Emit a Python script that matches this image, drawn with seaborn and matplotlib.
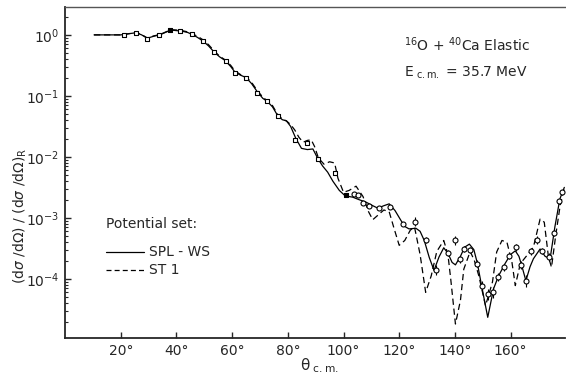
import matplotlib
matplotlib.use('Agg')
import matplotlib.pyplot as plt
import numpy as np
import pandas as pd
import seaborn as sns

# measured points, log10 of the ratio to Rutherford
sq_angle = [21.2, 25.3, 29.4, 33.6, 37.8, 41.4, 45.5, 49.5, 53.6, 57.7, 61.0, 65.0,
            69.1, 72.5, 76.4, 82.7, 86.9, 90.8, 97.1, 101.0]
sq_log = [0.0, 0.035, -0.06, 0.0, 0.08, 0.065, 0.01, -0.10, -0.28, -0.43, -0.62, -0.70,
          -0.96, -1.09, -1.33, -1.73, -1.77, -2.03, -2.27, -2.62]

ci_angle = [103.9, 105.1, 106.9, 109.0, 112.6, 116.7, 121.2, 125.6, 129.5, 133.1,
            137.5, 139.9, 141.7, 143.2, 145.4, 148.0, 149.8, 151.8, 153.6, 155.4,
            157.5, 159.6, 161.9, 163.8, 165.6, 167.4, 169.4, 171.4, 173.9, 175.7,
            177.4, 178.6]
ci_log = [-2.61, -2.62, -2.76, -2.81, -2.84, -2.82, -3.10, -3.06, -3.36, -3.86,
          -3.58, -3.37, -3.68, -3.51, -3.52, -3.75, -4.11, -4.25, -4.22, -3.97,
          -3.81, -3.63, -3.48, -3.77, -4.04, -3.55, -3.36, -3.55, -3.64, -3.25,
          -2.73, -2.58]
ci_err = [0.03, 0.03, 0.03, 0.03, 0.03, 0.03, 0.04, 0.07, 0.05, 0.08,
          0.05, 0.07, 0.06, 0.05, 0.05, 0.06, 0.08, 0.09, 0.09, 0.07,
          0.06, 0.05, 0.06, 0.06, 0.10, 0.06, 0.06, 0.05, 0.06, 0.05,
          0.04, 0.04]

# SPL-WS (solid)
spl_angle = [10.4, 15, 20, 23, 25.5, 27.5, 29.5, 32, 34, 36, 38, 40, 42, 44, 45.5, 47.5,
             49.5, 51.5, 53.5, 55.5, 57.5, 59.5, 61, 63, 65, 67, 69, 71, 72.6, 74.5,
             76.3, 78, 79.5, 81, 82.9, 84.9, 87, 89, 90.8, 92.5, 94.3, 96.2, 98.5,
             100.4, 102, 103.3, 105.5, 108, 110.5, 112.3, 114.5, 116.4, 118.5, 120.6,
             122, 123.5, 126, 127.5, 129, 130.8, 132.5, 134.3, 136, 137.5, 139, 140.2,
             142, 143.5, 145.2, 146.8, 148, 149.8, 151.8, 153.9, 155.7, 158, 160,
             161.7, 163, 164, 165.5, 167, 168.2, 170.6, 172.4, 174.2, 175.9, 177.7, 179.3]
spl_log = [0, 0, 0.0, 0.02, 0.035, 0.0, -0.055, -0.02, 0.0, 0.04, 0.08, 0.07, 0.06, 0.04,
           0.01, -0.04, -0.10, -0.18, -0.28, -0.36, -0.42, -0.52, -0.61, -0.66, -0.70,
           -0.80, -0.93, -1.04, -1.09, -1.18, -1.32, -1.39, -1.41, -1.50, -1.70, -1.86,
           -1.88, -1.87, -2.03, -2.15, -2.25, -2.40, -2.55, -2.63, -2.65, -2.66, -2.70,
           -2.74, -2.80, -2.84, -2.80, -2.77, -2.88, -3.04, -3.14, -3.18, -3.17, -3.22,
           -3.37, -3.65, -3.86, -3.64, -3.49, -3.58, -3.73, -3.77, -3.63, -3.48, -3.43,
           -3.52, -3.73, -4.16, -4.63, -4.16, -3.95, -3.75, -3.60, -3.54, -3.63, -3.78,
           -4.03, -3.80, -3.67, -3.51, -3.63, -3.67, -3.15, -2.69, -2.50]

# ST 1 (dashed)
st1_angle = [10.4, 15, 20, 23, 25.5, 27.5, 29.5, 32, 34, 36, 38, 40, 42, 44, 45.5, 47.5,
             49.5, 51.5, 53.5, 55.5, 57.5, 59.5, 61, 63, 65, 67, 69, 71, 72.6, 74.5,
             76.3, 78, 79.5, 81, 82.5, 84, 85.5, 87, 88.4, 89.6, 91, 93, 95, 96.8, 98,
             100, 102, 104.5, 107, 109, 110.5, 112.5, 114.5, 116.4, 118.2, 120, 122,
             124, 125.5, 127.5, 129.5, 131.5, 133.5, 136, 137.5, 138.5, 140.2, 142,
             143.2, 145.5, 147, 148.6, 151, 153.5, 155, 156.9, 158.7, 160.5, 161.7,
             163.5, 165.8, 168.2, 170.6, 172.1, 173.6, 174.7, 176.2, 177.8, 179.3]
st1_log = [0, 0, 0.0, 0.02, 0.04, 0.005, -0.05, -0.015, 0.005, 0.045, 0.085, 0.08, 0.07,
           0.05, 0.02, -0.02, -0.08, -0.16, -0.26, -0.35, -0.41, -0.50, -0.59, -0.65,
           -0.69, -0.78, -0.91, -1.02, -1.08, -1.16, -1.30, -1.38, -1.41, -1.47, -1.56,
           -1.68, -1.76, -1.73, -1.72, -1.83, -2.02, -2.12, -2.08, -2.10, -2.35, -2.58,
           -2.55, -2.48, -2.65, -2.90, -3.03, -2.95, -2.87, -2.90, -3.18, -3.45, -3.37,
           -3.20, -3.15, -3.60, -4.22, -3.95, -3.55, -3.37, -3.60, -4.00, -4.74, -4.35,
           -3.84, -3.55, -3.70, -3.95, -4.44, -4.05, -3.56, -3.37, -3.40, -3.73, -4.11,
           -3.75, -3.62, -3.48, -3.02, -3.07, -3.64, -3.81, -3.29, -2.80, -2.50]

filled_sq = [37.8, 101.0]

sns.set_style('ticks')
plt.rcParams['font.family'] = ['DejaVu Sans']
plt.rcParams['mathtext.fontset'] = 'dejavusans'

fig = plt.figure(figsize=(5.66, 3.79), dpi=100)
ax = fig.add_axes([0.115, 0.108, 0.883, 0.874])

spl = pd.DataFrame({'angle': spl_angle, 'ratio': 10 ** np.array(spl_log)})
st1 = pd.DataFrame({'angle': st1_angle, 'ratio': 10 ** np.array(st1_log)})
sns.lineplot(data=spl, x='angle', y='ratio', ax=ax, color='black', lw=0.9, sort=False)
sns.lineplot(data=st1, x='angle', y='ratio', ax=ax, color='black', lw=0.9, sort=False,
             linestyle=(0, (5, 3)))

sq = pd.DataFrame({'angle': sq_angle, 'ratio': 10 ** np.array(sq_log)})
sq['filled'] = sq['angle'].isin(filled_sq)
ax.scatter(sq.loc[~sq.filled, 'angle'], sq.loc[~sq.filled, 'ratio'], marker='s', s=10,
           facecolor='white', edgecolor='black', lw=0.8, zorder=3)
ax.scatter(sq.loc[sq.filled, 'angle'], sq.loc[sq.filled, 'ratio'], marker='s', s=10,
           facecolor='black', edgecolor='black', lw=0.8, zorder=3)

# circles with small error bars
ci_y = 10 ** np.array(ci_log)
lo = ci_y - 10 ** (np.array(ci_log) - np.array(ci_err))
hi = 10 ** (np.array(ci_log) + np.array(ci_err)) - ci_y
ax.errorbar(ci_angle, ci_y, yerr=[lo, hi], fmt='o', ms=3.6, mfc='white', mec='black',
            mew=0.8, ecolor='black', elinewidth=0.8, capsize=0, zorder=3)

ax.set_yscale('log')
ax.set_xlim(0, 179.5)
ax.set_ylim(10 ** -4.97, 10 ** 0.46)
ax.set_xticks([20, 40, 60, 80, 100, 120, 140, 160])
ax.set_xticklabels(['20°', '40°', '60°', '80°', '100°', '120°', '140°', '160°'])
ax.set_yticks([1, 1e-1, 1e-2, 1e-3, 1e-4])
ax.set_yticklabels([r'$10^{0}$', r'$10^{-1}$', r'$10^{-2}$', r'$10^{-3}$', r'$10^{-4}$'])
ax.tick_params(axis='both', which='major', direction='in', length=4, width=1,
               labelsize=10, pad=4)
ax.tick_params(axis='y', which='minor', direction='in', length=2.5, width=0.8)
ax.set_xlabel('')
ax.set_ylabel('')

for side in ['left', 'bottom']:
    ax.spines[side].set_linewidth(1.3)
ax.spines['top'].set_linewidth(1.0)
ax.spines['top'].set_color('#555555')
ax.spines['right'].set_visible(False)

fig.text(0.035, 0.43,
         r'$(\mathrm{d}\sigma\ /\mathrm{d}\Omega)\ /\ (\mathrm{d}\sigma\ /\mathrm{d}\Omega)_\mathrm{R}$',
         rotation=90, ha='center', va='center', fontsize=10)
fig.text(0.53, 0.035, r'$\mathrm{\theta}_{\ \mathrm{c.m.}}$', ha='left', va='center',
         fontsize=11)

ax.text(0.678, 0.885, r'$^{16}$O + $^{40}$Ca Elastic', transform=ax.transAxes,
        fontsize=10, va='center')
ax.text(0.678, 0.80, r'E$_{\mathrm{\ c.m.}}$ = 35.7 MeV', transform=ax.transAxes,
        fontsize=10, va='center')

ax.text(0.082, 0.345, 'Potential set:', transform=ax.transAxes, fontsize=10, va='center')
ax.plot([0.082, 0.158], [0.26, 0.26], transform=ax.transAxes, color='black', lw=0.9)
ax.plot([0.082, 0.158], [0.206, 0.206], transform=ax.transAxes, color='black', lw=0.9,
        linestyle=(0, (4, 2.5)))
ax.text(0.168, 0.26, 'SPL - WS', transform=ax.transAxes, fontsize=10, va='center')
ax.text(0.168, 0.206, 'ST 1', transform=ax.transAxes, fontsize=10, va='center')

fig.savefig('out.png', dpi=100)
